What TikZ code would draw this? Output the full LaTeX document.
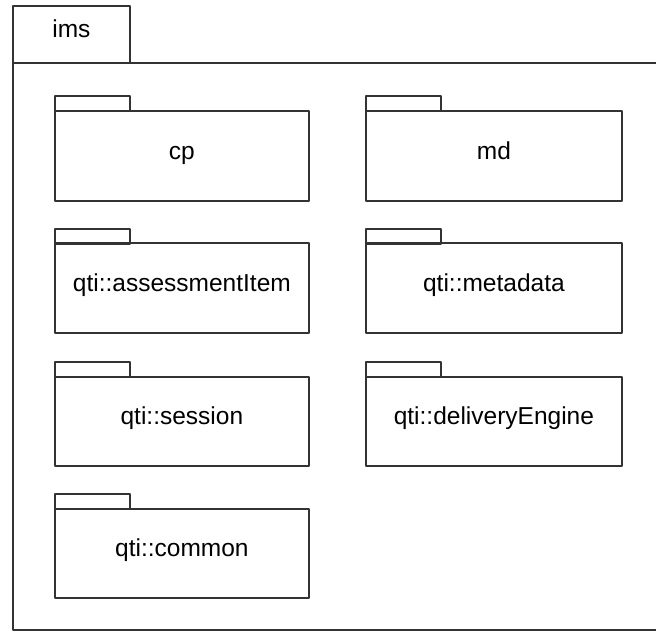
\documentclass[tikz,border=0pt]{standalone}
\usepackage{fontspec}
\setmainfont{Liberation Sans}
\begin{document}
\begin{tikzpicture}[x=1pt,y=-1pt,
  edge/.style={draw=black!80, line width=1.8pt, line join=round},
  pkgtab/.style={edge, rectangle, anchor=north west, inner sep=0pt, minimum width=75pt, minimum height=15pt},
  pkgbody/.style={edge, rectangle, anchor=north west, inner sep=0pt, minimum height=90pt, text height=14pt, text depth=7pt, font=\fontsize{24.5}{28}\selectfont},
  leftw/.style={minimum width=254pt},
  rightw/.style={minimum width=256pt}
]
\useasboundingbox (0,0) rectangle (656,630);
\clip (0,0) rectangle (656,630);
\fill[white] (0,0) rectangle (656,630);
% outer package ims
\node[edge, rectangle, anchor=north west, inner sep=0pt, minimum width=117pt, minimum height=57pt, text height=14pt, text depth=7pt, font=\fontsize{24.5}{28}\selectfont] (imstab) at (12,5) {ims};
\node[edge, rectangle, anchor=north west, inner sep=0pt, minimum width=680pt, minimum height=567pt] (imsbody) at (12,62) {};
% row 1
\node[pkgtab] (cptab) at (54,95) {};
\node[pkgbody, leftw] (cp) at (54,110) {cp};
\node[pkgtab] (mdtab) at (365,95) {};
\node[pkgbody, rightw] (md) at (365,110) {md};
% row 2
\node[pkgtab] (aitab) at (54,228) {};
\node[pkgbody, leftw] (ai) at (54,242) {qti::assessmentItem};
\node[pkgtab] (metatab) at (365,228) {};
\node[pkgbody, rightw] (meta) at (365,242) {qti::metadata};
% row 3
\node[pkgtab] (sesstab) at (54,361) {};
\node[pkgbody, leftw, minimum height=89pt] (sess) at (54,376) {qti::session};
\node[pkgtab] (detab) at (365,361) {};
\node[pkgbody, rightw, minimum height=89pt] (de) at (365,376) {qti::deliveryEngine};
% row 4
\node[pkgtab] (comtab) at (54,493) {};
\node[pkgbody, leftw, minimum height=89pt] (com) at (54,508) {qti::common};
\end{tikzpicture}
\end{document}
